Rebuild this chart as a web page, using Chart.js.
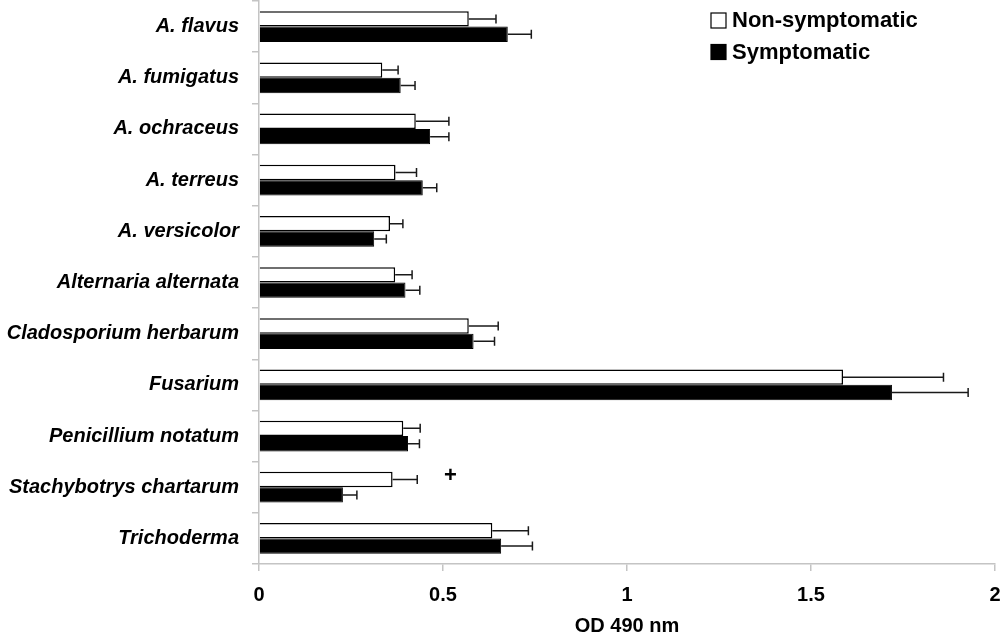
<!DOCTYPE html>
<html lang="en">
<head>
    <meta charset="UTF-8">
    <title>OD 490 nm by fungal species</title>
    <script src="https://cdn.jsdelivr.net/npm/chart.js"></script>
    <style>
        html, body { margin: 0; padding: 0; background: white; }
        #wrap { width: 1000px; height: 638px; position: relative; }
    </style>
</head>
<body>
    <div id="wrap"><canvas id="odChart"></canvas></div>

    <script>
        // data
        var species = ["A. flavus", "A. fumigatus", "A. ochraceus", "A. terreus", "A. versicolor",
            "Alternaria alternata", "Cladosporium herbarum", "Fusarium", "Penicillium notatum",
            "Stachybotrys chartarum", "Trichoderma"];
        var nonSymptomatic = [0.570, 0.335, 0.426, 0.371, 0.356, 0.370, 0.570, 1.587, 0.392, 0.363, 0.634];
        var nonSymptomaticErr = [0.074, 0.043, 0.090, 0.057, 0.035, 0.046, 0.080, 0.273, 0.046, 0.067, 0.098];
        var symptomatic = [0.676, 0.385, 0.465, 0.445, 0.313, 0.398, 0.583, 1.720, 0.405, 0.228, 0.658];
        var symptomaticErr = [0.064, 0.039, 0.051, 0.038, 0.033, 0.039, 0.057, 0.207, 0.031, 0.038, 0.085];
        var xTicks = [0, 0.5, 1, 1.5, 2];
        var significance = [{ category: "Stachybotrys chartarum", x: 0.52, text: "+" }];

        var axisGrey = "#c4c4c4";
        var fontFamily = "Arial, 'Liberation Sans', sans-serif";

        // error bars to the right of each bar
        var errorBars = {
            id: 'errorBars',
            afterDatasetsDraw: function(chart) {
                var ctx = chart.ctx;
                var x = chart.scales.x;
                var errs = [nonSymptomaticErr, symptomaticErr];
                ctx.save();
                ctx.strokeStyle = "#1a1a1a";
                ctx.lineWidth = 1.5;
                chart.data.datasets.forEach(function(ds, di) {
                    chart.getDatasetMeta(di).data.forEach(function(bar, i) {
                        var x0 = x.getPixelForValue(ds.data[i]);
                        var x1 = x.getPixelForValue(ds.data[i] + errs[di][i]);
                        ctx.beginPath();
                        ctx.moveTo(x0, bar.y);
                        ctx.lineTo(x1, bar.y);
                        ctx.moveTo(x1, bar.y - 4.5);
                        ctx.lineTo(x1, bar.y + 4.5);
                        ctx.stroke();
                    });
                });
                // significance marks
                ctx.fillStyle = "#000";
                ctx.font = "bold 22px " + fontFamily;
                ctx.textAlign = "center";
                ctx.textBaseline = "middle";
                significance.forEach(function(m) {
                    var idx = species.indexOf(m.category);
                    var bar = chart.getDatasetMeta(0).data[idx];
                    ctx.fillText(m.text, x.getPixelForValue(m.x), bar.y - 4);
                });
                ctx.restore();
            }
        };

        // legend in the top right corner
        var boxLegend = {
            id: 'boxLegend',
            afterDraw: function(chart) {
                var ctx = chart.ctx;
                ctx.save();
                ctx.font = "bold 22px " + fontFamily;
                ctx.textBaseline = "middle";
                ctx.textAlign = "left";
                chart.data.datasets.forEach(function(ds, i) {
                    var top = 13 + i * 31.5;
                    ctx.fillStyle = ds.backgroundColor;
                    ctx.fillRect(711, top, 15, 15);
                    ctx.strokeStyle = "#000";
                    ctx.lineWidth = 1.2;
                    ctx.strokeRect(711, top, 15, 15);
                    ctx.fillStyle = "#000";
                    ctx.fillText(ds.label, 732, top + 8);
                });
                ctx.restore();
            }
        };

        var ctx = document.getElementById('odChart').getContext('2d');
        var odChart = new Chart(ctx, {
            type: 'bar',
            data: {
                labels: species,
                datasets: [{
                    label: "Non-symptomatic",
                    data: nonSymptomatic,
                    backgroundColor: "#ffffff",
                    borderColor: "#000000",
                    borderWidth: 1.5
                }, {
                    label: "Symptomatic",
                    data: symptomatic,
                    backgroundColor: "#000000",
                    borderColor: "#000000",
                    borderWidth: 1
                }]
            },
            options: {
                indexAxis: 'y',
                responsive: true,
                maintainAspectRatio: false,
                animation: false,
                categoryPercentage: 0.6,
                barPercentage: 1.0,
                layout: { padding: { top: 1, right: 5, bottom: 0, left: 0 } },
                plugins: {
                    legend: { display: false },
                    tooltip: { enabled: false }
                },
                scales: {
                    x: {
                        min: 0,
                        max: 2,
                        afterBuildTicks: function(scale) {
                            scale.ticks = xTicks.map(function(v) { return { value: v }; });
                        },
                        afterFit: function(scale) {
                            scale.height = 74;
                            scale.paddingLeft = 0;
                            scale.paddingRight = 0;
                        },
                        grid: { drawOnChartArea: false, tickLength: 7, color: axisGrey, lineWidth: 1.5 },
                        border: { color: axisGrey, width: 1.5 },
                        ticks: {
                            color: "#000",
                            padding: 12,
                            font: { family: fontFamily, size: 20, weight: 'bold' },
                            callback: function(v) { return String(v); }
                        },
                        title: {
                            display: true,
                            text: "OD 490 nm",
                            color: "#000",
                            padding: { top: 9, bottom: 0 },
                            font: { family: fontFamily, size: 20, weight: 'bold' }
                        }
                    },
                    y: {
                        afterFit: function(scale) {
                            scale.width = 259;
                            scale.paddingTop = 0;
                            scale.paddingBottom = 0;
                        },
                        grid: { drawOnChartArea: false, offset: true, tickLength: 7, color: axisGrey, lineWidth: 1.5 },
                        border: { color: axisGrey, width: 1.5 },
                        ticks: { color: "#000", padding: 13, font: { family: fontFamily, size: 20, weight: 'bold', style: 'italic' } }
                    }
                }
            },
            plugins: [errorBars, boxLegend]
        });
    </script>
</body>
</html>
